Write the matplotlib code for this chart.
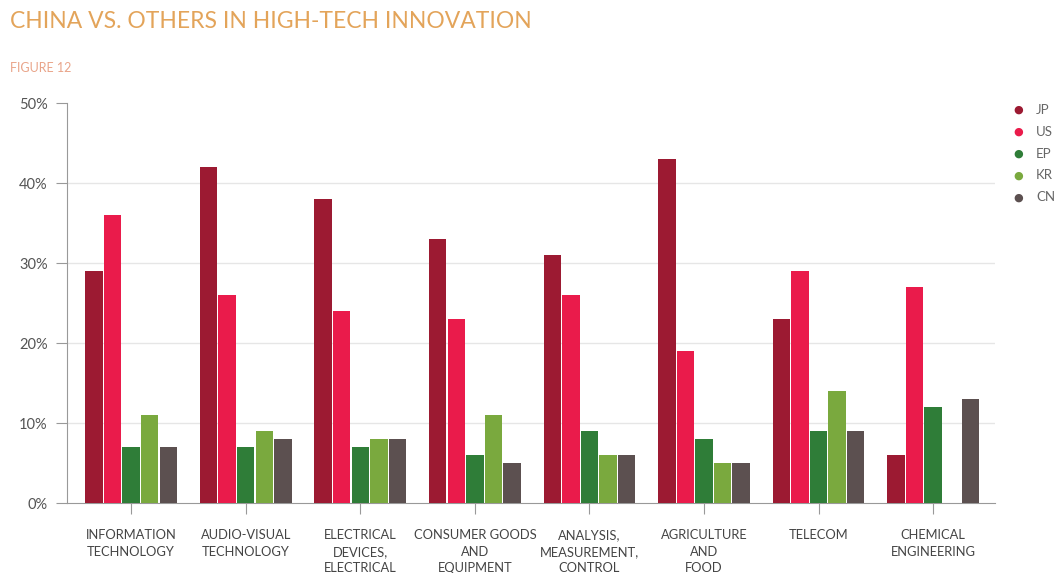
import matplotlib.pyplot as plt
import numpy as np

categories = ['INFORMATION\nTECHNOLOGY', 'AUDIO-VISUAL\nTECHNOLOGY',
              'ELECTRICAL\nDEVICES,\nELECTRICAL', 'CONSUMER GOODS\nAND\nEQUIPMENT',
              'ANALYSIS,\nMEASUREMENT,\nCONTROL', 'AGRICULTURE\nAND\nFOOD',
              'TELECOM', 'CHEMICAL\nENGINEERING']
offices = ['JP', 'US', 'EP', 'KR', 'CN']

jp = [29, 42, 38, 33, 31, 43, 23, 6]
us = [36, 26, 24, 23, 26, 19, 29, 27]
ep = [7, 7, 7, 6, 9, 8, 9, 12]
kr = [11, 9, 8, 11, 6, 5, 14, 0]
cn = [7, 8, 8, 5, 6, 5, 9, 13]

colors = ['#9c1a32', '#ea1b4b', '#2f7d38', '#7aa93e', '#5c5050']

plt.rcParams['font.family'] = ['Lato', 'DejaVu Sans']

fig = plt.figure(figsize=(10.57, 5.73), dpi=100)
ax = fig.add_axes([0.0634, 0.122, 0.8780, 0.698])

x = np.arange(len(categories))
w = 0.162
for i, vals in enumerate([jp, us, ep, kr, cn]):
    ax.bar(x + (i - 2) * w, vals, width=w * 0.94, color=colors[i], zorder=3)

ax.set_xlim(-0.56, 7.54)
ax.set_ylim(0, 50)
ax.set_yticks([0, 10, 20, 30, 40, 50])
ax.set_yticklabels([f'{v}%' for v in range(0, 51, 10)])
for g in [10, 20, 30, 40]:
    ax.axhline(g, color='#e6e6e6', linewidth=1, zorder=0)
ax.set_xticks(x)
ax.set_xticklabels(categories, fontsize=9.3, color='#444444', linespacing=1.45)

for s in ['top', 'right']:
    ax.spines[s].set_visible(False)
ax.spines['left'].set_color('#999999')
ax.spines['bottom'].set_color('#999999')
ax.tick_params(axis='y', length=8, color='#999999', labelsize=10.5, labelcolor='#555555', pad=6)
ax.tick_params(axis='x', length=8, color='#999999', pad=11)

# legend drawn as dots with labels on the right
for i, (name, c) in enumerate(zip(offices, colors)):
    yy = 1 - (110 + i * 21.8) / 573
    fig.text(1018 / 1057, yy, '\u25cf', color=c, fontsize=8,
             ha='center', va='center', family='DejaVu Sans')
    fig.text(1036 / 1057, yy, name, color='#666666', fontsize=9.5,
             ha='left', va='center')

fig.text(10 / 1057, 1 - 22 / 573, 'CHINA VS. OTHERS IN HIGH-TECH INNOVATION',
         fontsize=16.5, color='#e3a45a', va='center')
fig.text(10 / 1057, 1 - 68 / 573, 'FIGURE 12', fontsize=9, color='#e9a489',
         va='center')

fig.savefig('out.png', dpi=100)
